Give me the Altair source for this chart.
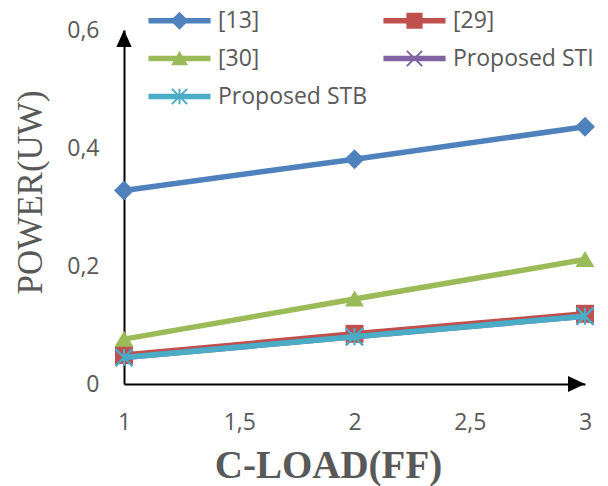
import altair as alt
import pandas as pd

# Power consumption versus load capacitance for five designs
series = ["[13]", "[29]", "[30]", "Proposed STI", "Proposed STB"]
colors = ["#4F81BD", "#C0504D", "#9BBB59", "#8064A2", "#4BACC6"]
c_load = [1, 2, 3]
power_13 = [0.328, 0.381, 0.436]
power_29 = [0.049, 0.085, 0.119]
power_30 = [0.076, 0.144, 0.211]
power_sti = [0.045, 0.080, 0.115]
power_stb = [0.045, 0.080, 0.115]
x_ticks = [1, 1.5, 2, 2.5, 3]
y_ticks = [0, 0.2, 0.4, 0.6]

values = [power_13, power_29, power_30, power_sti, power_stb]
rows = []
for name, vals in zip(series, values):
    for x, v in zip(c_load, vals):
        rows.append({"series": name, "c_load": x, "power": v})
df = pd.DataFrame(rows)


# ---- marker geometry (unit square, negative winding so parts union) ----
def poly(pts):
    return "M" + "L".join(f"{x:.3f},{y:.3f}" for x, y in pts) + "Z"


def bar(p0, p1, h):
    dx, dy = p1[0] - p0[0], p1[1] - p0[1]
    ln = (dx * dx + dy * dy) ** 0.5
    nx, ny = -dy / ln * h, dx / ln * h
    return poly([(p0[0] + nx, p0[1] + ny), (p1[0] + nx, p1[1] + ny),
                 (p1[0] - nx, p1[1] - ny), (p0[0] - nx, p0[1] - ny)])


diamond = poly([(-1, 0), (0, 1), (1, 0), (0, -1)])
square = poly([(-0.9, -0.9), (-0.9, 0.9), (0.9, 0.9), (0.9, -0.9)])
triangle = poly([(0, -0.85), (-0.95, 0.75), (0.95, 0.75)])
s = 0.85
cross = bar((-s, -s), (s, s), 0.11) + bar((-s, s), (s, -s), 0.11)
star = cross + bar((0, -s), (0, s), 0.11)
markers = [diamond, square, triangle, cross, star]

# legend symbol: line segment with the marker on it
seg = bar((-3.45, 0), (3.45, 0), 0.3)
legend_symbols = [seg + m for m in markers]

arrow_up = "M0,0L0.45,1L-0.45,1Z"
arrow_right = "M0,0L-1,-0.47L-1,0.47Z"

label_font = "Open Sans"
gray = "#595959"

x_enc = alt.X(
    "c_load:Q",
    scale=alt.Scale(domain=[1, 3], nice=False, zero=False),
    axis=alt.Axis(
        values=x_ticks, labelExpr="replace(toString(datum.value), '.', ',')",
        ticks=False, tickSize=0, grid=False, domainColor="black", domainWidth=2,
        labelFont=label_font, labelFontSize=23, labelColor=gray, labelPadding=27,
        labelFlush=False, labelOverlap=False,
        title="C-LOAD(FF)", titleFont="Liberation Serif", titleFontSize=39,
        titleFontWeight="bold", titleColor=gray, titleX=204, titleY=93,
        titleAlign="center", titleBaseline="alphabetic",
    ),
)
y_enc = alt.Y(
    "power:Q",
    scale=alt.Scale(domain=[0, 0.6], nice=False),
    axis=alt.Axis(
        values=y_ticks,
        labelExpr="datum.value == 0 ? '0' : replace(format(datum.value, '.1f'), '.', ',')",
        ticks=False, tickSize=0, grid=False, domainColor="black", domainWidth=2,
        labelFont=label_font, labelFontSize=23, labelColor=gray, labelPadding=25,
        labelFlush=False, labelOverlap=False,
        title="POWER(UW)", titleFont="Liberation Serif", titleFontSize=35,
        titleFontWeight="normal", titleColor=gray, titleX=-94, titleY=162,
        titleAngle=270, titleAlign="center", titleBaseline="middle",
    ),
)

color_scale = alt.Scale(domain=series, range=colors)
base = alt.Chart(df)

layers = []
for name in series:
    sub = base.transform_filter(alt.datum.series == name)
    layers.append(
        sub.mark_line(strokeWidth=5.5).encode(
            x=x_enc, y=y_enc,
            color=alt.Color("series:N", scale=color_scale, legend=None),
        )
    )
    layers.append(
        sub.mark_point(filled=True, size=400, opacity=1, strokeWidth=0).encode(
            x=x_enc, y=y_enc,
            color=alt.Color("series:N", scale=color_scale, legend=None),
            shape=alt.Shape("series:N", scale=alt.Scale(domain=series, range=markers), legend=None),
        )
    )

legend = alt.Legend(
    title=None, orient="none", legendX=44, legendY=-21, columns=2,
    direction="horizontal",
    columnPadding=15, rowPadding=14, labelFont=label_font, labelFontSize=23,
    labelColor=gray, labelOffset=27, symbolSize=324, symbolStrokeWidth=0,
    symbolOpacity=1, padding=0,
)
legend_layer = base.transform_calculate(entry="datum.series").mark_point(
    filled=True, size=324, opacity=0, strokeWidth=0
).encode(
    x=x_enc, y=y_enc,
    color=alt.Color("entry:N", scale=alt.Scale(domain=series, range=colors), legend=legend),
    shape=alt.Shape("entry:N", scale=alt.Scale(domain=series, range=legend_symbols), legend=legend),
)
layers.append(legend_layer)

# arrowheads at the ends of both axes
ends = pd.DataFrame([
    {"c_load": c_load[0], "power": y_ticks[-1], "kind": "up"},
    {"c_load": c_load[-1], "power": y_ticks[0], "kind": "right"},
])
ends_base = alt.Chart(ends)
layers.append(
    ends_base.transform_filter(alt.datum.kind == "up").mark_point(
        filled=True, color="black", opacity=1, size=1156, shape=arrow_up, strokeWidth=0
    ).encode(x=x_enc, y=y_enc)
)
layers.append(
    ends_base.transform_filter(alt.datum.kind == "right").mark_point(
        filled=True, color="black", opacity=1, size=1156, shape=arrow_right, strokeWidth=0
    ).encode(x=x_enc, y=y_enc)
)

chart = alt.layer(*layers).resolve_scale(
    color="independent", shape="independent"
).properties(
    width=461, height=354, autosize="none",
    padding={"left": 124, "top": 30, "right": 23, "bottom": 102},
    background="white",
).configure_view(stroke=None)

chart.save("out.html", embed_options={"renderer": "svg", "actions": False})
